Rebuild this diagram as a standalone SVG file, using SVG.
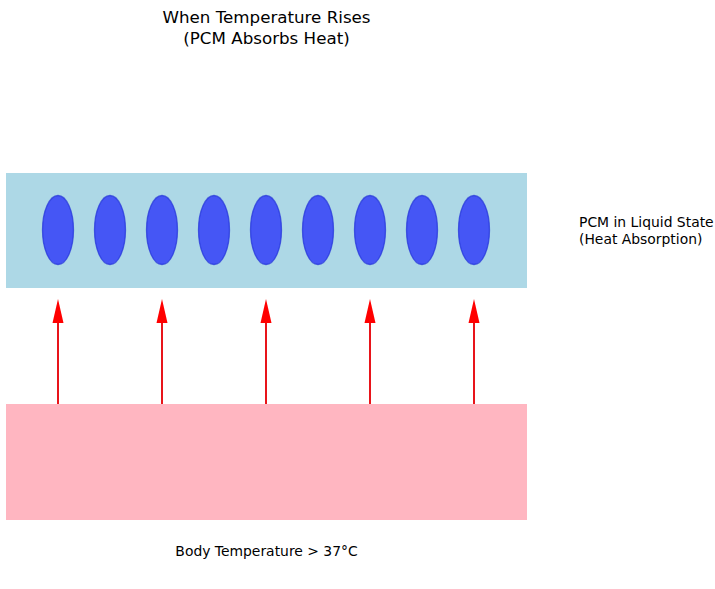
<svg xmlns="http://www.w3.org/2000/svg" width="715" height="589" viewBox="0 0 715 589">
<style>
text{font-family:"DejaVu Sans",sans-serif;fill:#000}
.title{font-size:16.7px}
.lbl{font-size:13.9px}
.pcm{fill:#0000ff;fill-opacity:0.6;stroke:#1f2fd8;stroke-opacity:0.7;stroke-width:1.3}
.arr{stroke:#e8141a;stroke-width:2;fill:none}
.head{fill:#ff0000}
</style>
<rect width="715" height="589" fill="#fff"/>
<g id="title">
<text class="title" x="266.5" y="23" text-anchor="middle">When Temperature Rises</text>
<text class="title" x="266.5" y="44" text-anchor="middle">(PCM Absorbs Heat)</text>
</g>
<g id="pcm-layer">
<rect x="6" y="173" width="521" height="115" fill="#add8e6"/>
<ellipse class="pcm" cx="58" cy="230" rx="15.5" ry="34.5"/>
<ellipse class="pcm" cx="110" cy="230" rx="15.5" ry="34.5"/>
<ellipse class="pcm" cx="162" cy="230" rx="15.5" ry="34.5"/>
<ellipse class="pcm" cx="214" cy="230" rx="15.5" ry="34.5"/>
<ellipse class="pcm" cx="266" cy="230" rx="15.5" ry="34.5"/>
<ellipse class="pcm" cx="318" cy="230" rx="15.5" ry="34.5"/>
<ellipse class="pcm" cx="370" cy="230" rx="15.5" ry="34.5"/>
<ellipse class="pcm" cx="422" cy="230" rx="15.5" ry="34.5"/>
<ellipse class="pcm" cx="474" cy="230" rx="15.5" ry="34.5"/>
</g>
<g id="pcm-label">
<text class="lbl" x="579" y="227">PCM in Liquid State</text>
<text class="lbl" x="579" y="244">(Heat Absorption)</text>
</g>
<g id="body">
<rect x="6" y="404" width="521" height="116" fill="#ffb6c1"/>
</g>
<g id="body-label">
<text class="lbl" x="266.5" y="556" text-anchor="middle">Body Temperature &gt; 37°C</text>
</g>
<g id="connectors">
<path class="arr" d="M58 404V320M162 404V320M266 404V320M370 404V320M474 404V320"/>
<path class="head" d="M52.5 323L58 299L63.5 323Z"/>
<path class="head" d="M156.5 323L162 299L167.5 323Z"/>
<path class="head" d="M260.5 323L266 299L271.5 323Z"/>
<path class="head" d="M364.5 323L370 299L375.5 323Z"/>
<path class="head" d="M468.5 323L474 299L479.5 323Z"/>
</g>
</svg>
